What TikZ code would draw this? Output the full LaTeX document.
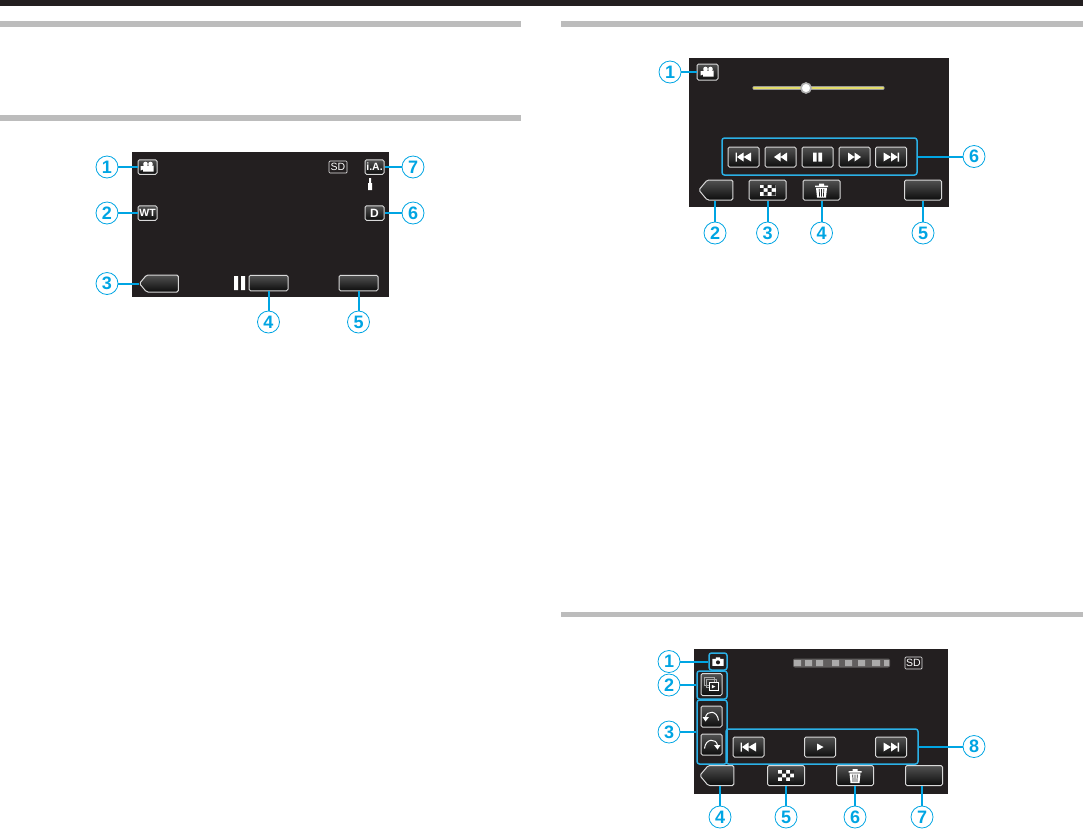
\documentclass[tikz,border=0pt]{standalone}
\usepackage{fontspec}
\setmainfont{Liberation Sans}
\usepackage{tikz}
\usetikzlibrary{shapes}
\usetikzlibrary{positioning}
\usepackage{xcolor}
\definecolor{screenblack}{HTML}{231F20}
\definecolor{callblue}{HTML}{00A5E3}
\definecolor{boxblue}{HTML}{2BB0E6}
\definecolor{headgray}{HTML}{BCBCBC}
\definecolor{sliderline}{HTML}{E3DC6A}
\tikzset{
  screen/.style={fill=screenblack, inner sep=0pt, outer sep=0pt},
  callout/.style={circle, draw=callblue, fill=white, line width=.8pt, minimum size=22pt, inner sep=0pt, text=callblue, font=\fontsize{18}{18}\selectfont\bfseries},
  lead/.style={callblue, line width=2pt},
  btn/.style={draw=white!85!black, line width=1pt, rounded corners=1.5pt, top color=black!68, bottom color=black!95, inner sep=0pt, text=white, font=\fontsize{10.5}{11}\selectfont\bfseries},
  btnlow/.style={btn, minimum width=39pt, minimum height=15.5pt},
  btnsmall/.style={btn, minimum width=19pt, minimum height=14.5pt},
  btnctl/.style={btn, minimum width=31pt, minimum height=20pt},
  btnbot/.style={btn, minimum width=37pt, minimum height=20pt},
  btnback/.style={btn, shape=signal, signal to=west, signal pointer angle=100, minimum width=#1, minimum height=17pt},
  sdbox/.style={draw=white!90!black, line width=.7pt, rounded corners=1pt, fill=screenblack, text=white, inner sep=0pt, minimum width=18pt, minimum height=12pt, font=\fontsize{10.5}{10.5}\selectfont},
  hilite/.style={draw=boxblue, line width=1.5pt, rounded corners=2.5pt, inner sep=0pt},
  headbar/.style={fill=headgray},
  camicon/.pic={
    \fill[white] (-7,-1) -- (-4.5,-1) -- (-4.5,-1.5) -- (6,-1.5) -- (6,4.5) -- (-4.5,4.5) -- (-4.5,2.5) -- (-7,3.5) -- cycle;
    \fill[white] (-2,-3) circle(2.3) (3,-3) circle(2.3);
  },
  stillicon/.pic={
    \fill[white] (-6.5,-3) rectangle (6.5,5) (-2.5,-5) rectangle (2.5,-2.5);
    \fill[screenblack] (0,1) circle(2.4);
  },
  stackicon/.pic={
    \draw[white!65!black, line width=.7pt] (-8,-8) rectangle (3,1) (-5.5,-5.5) rectangle (6,3);
    \draw[white, line width=.8pt, fill=black!85] (-3,-2) rectangle (8,7);
    \fill[white] (0.5,.5) -- (4.5,2.5) -- (0.5,4.5) -- cycle;
  },
  rotateicon/.pic={
    \draw[white, line width=1pt] (7,4) .. controls (6,-6.5) and (-5,-6.5) .. (-6,1);
    \fill[white] (-9,.5) -- (-2.5,.5) -- (-6,5) -- cycle;
  },
  skipicon/.pic={
    \fill[white] (-8,-4.5) rectangle (-6.6,4.5) (-6.6,0) -- (0,-4.5) -- (0,4.5) -- cycle (0,0) -- (7.5,-4.5) -- (7.5,4.5) -- cycle;
  },
  rewicon/.pic={
    \fill[white] (-6.5,0) -- (0,-4.5) -- (0,4.5) -- cycle (0,0) -- (6.5,-4.5) -- (6.5,4.5) -- cycle;
  },
  pauseicon/.pic={
    \fill[white] (-5,-5) rectangle (-1,5) (1,-5) rectangle (5,5);
  },
  playicon/.pic={
    \fill[white] (-3,-3.5) -- (3.5,0) -- (-3,3.5) -- cycle;
  },
  gridicon/.pic={
    \fill[white] (-8,-5.5) rectangle (8,5.5);
    \fill[black!85] (-4,-5.5) rectangle (0,-1.8) (4,-5.5) rectangle (8,-1.8) (-8,-1.8) rectangle (-4,1.8) (0,-1.8) rectangle (4,1.8) (-4,1.8) rectangle (0,5.5) (4,1.8) rectangle (8,5.5);
  },
  trashicon/.pic={
    \fill[white] (-6.5,-4.5) rectangle (6.5,-3) (-2.5,-6.5) rectangle (2.5,-4.5);
    \fill[white] (-5.5,-2.2) -- (5.5,-2.2) -- (4.5,7.5) -- (-4.5,7.5) -- cycle;
    \draw[black!85, line width=.7pt] (-2.3,-1) -- (-1.9,6.5) (0,-1) -- (0,6.5) (2.3,-1) -- (1.9,6.5);
  },
}

\begin{document}
\begin{tikzpicture}[x=1pt, y=-1pt]
\useasboundingbox (0,0) rectangle (1083,828);
\fill[screenblack] (0,0) rectangle (1083,6);
\fill[headbar] (0,21) rectangle (521,27);
\fill[headbar] (0,115) rectangle (521,121);
\fill[headbar] (561,21) rectangle (1083,27);
\fill[headbar] (561,612) rectangle (1083,617);
% recording screen
\node[screen, minimum width=257pt, minimum height=145pt] (scrA) at (260.5,224.5) {};
\node[btnsmall] (camA) at (147.5,167) {};
\node[btnsmall] (wtA) at (147.5,213) {WT};
\node[btnsmall] (iaA) at (374.5,167) {i.A.};
\node[btnsmall] (dA) at (374.5,213) {\fontsize{12}{12}\selectfont D};
\node[sdbox] (sdA) at (338,167) {SD};
\node[btnback=39pt] (backA) at (162.5,283.5) {};
\node[btnlow] (recA) at (268.5,283) {};
\node[btnlow] (menuA) at (358.5,283) {};
\pic at (camA) {camicon};
\fill[white] (234,276) rectangle (238,290) (241,276) rectangle (245,290);
\fill[white] (368,183) rectangle (372,190) (369,178) rectangle (371,183);
\node[callout] (a1) at (107,167) {1};
\node[callout] (a2) at (107,213) {2};
\node[callout] (a3) at (107,283.5) {3};
\node[callout] (a4) at (268.5,322) {4};
\node[callout] (a5) at (358.5,322) {5};
\node[callout] (a6) at (413,213) {6};
\node[callout] (a7) at (413,167) {7};
\draw[lead] (a1) -- (camA);
\draw[lead] (a2) -- (wtA);
\draw[lead] (a3) -- (backA);
\draw[lead] (a4) -- (recA);
\draw[lead] (a5) -- (menuA);
\draw[lead] (a6) -- (dA);
\draw[lead] (a7) -- (iaA);
% video playback screen
\node[screen, minimum width=260pt, minimum height=149pt] (scrB) at (819,132.5) {};
\node[btn, minimum width=21pt, minimum height=16pt] (camB) at (707.5,72) {};
\coordinate (sliderL) at (754,88);
\coordinate (sliderR) at (883,88);
\draw[white!60!black, line width=3.2pt, line cap=round] (sliderL) -- (sliderR);
\draw[sliderline, line width=2.2pt, line cap=round] (sliderL) -- (sliderR);
\node[circle, draw=white!70!black, fill=white, line width=1.6pt, minimum size=10pt, inner sep=0pt] (knobB) at (806,88) {};
\node[hilite, minimum width=195pt, minimum height=37pt] (rowB) at (819.5,156.5) {};
\node[btnctl] (skipbackB) at (743.5,157) {};
\node[btnctl] (rewB) at (780.5,157) {};
\node[btnctl] (pauseB) at (817.5,157) {};
\node[btnctl] (ffB) at (854.5,157) {};
\node[btnctl] (skipfwdB) at (891,157) {};
\node[btnback=34pt, minimum height=20pt] (backB) at (720,190) {};
\node[btnbot] (gridB) at (767.5,190) {};
\node[btnbot] (trashB) at (821.5,190) {};
\node[btnbot] (menuB) at (923,190) {};
\pic at (camB) {camicon};
\pic at (skipbackB) {skipicon};
\pic at (rewB) {rewicon};
\pic[scale=.9] at (pauseB) {pauseicon};
\pic[xscale=-1] at (ffB) {rewicon};
\pic[xscale=-1] at (skipfwdB) {skipicon};
\pic at (gridB) {gridicon};
\pic at (trashB) {trashicon};
\node[callout] (b1) at (670,72) {1};
\node[callout] (b2) at (715,233) {2};
\node[callout] (b3) at (767.5,233) {3};
\node[callout] (b4) at (821.5,233) {4};
\node[callout] (b5) at (923,233) {5};
\node[callout] (b6) at (974,156.5) {6};
\draw[lead] (b1) -- (camB);
\draw[lead] (b2) -- (b2 |- backB.south);
\draw[lead] (b3) -- (gridB);
\draw[lead] (b4) -- (trashB);
\draw[lead] (b5) -- (menuB);
\draw[lead] (b6) -- (rowB);
% still image playback screen
\node[screen, minimum width=254pt, minimum height=145pt] (scrC) at (821,721.5) {};
\fill[white!28!screenblack, rounded corners=2pt] (793,658.5) rectangle (890,667.5);
\fill[white!62!screenblack] (794,660) rectangle (801,666) (805,660) rectangle (812,666) (816,660) rectangle (823,666) (832,660) rectangle (839,666) (845,660) rectangle (852,666) (858,660) rectangle (865,666) (872,660) rectangle (880,666) (884,660) rectangle (889,666);
\node[sdbox, minimum width=17pt] (sdC) at (913.5,663) {SD};
\node[hilite, minimum width=18pt, minimum height=17pt] (camboxC) at (718,661.5) {};
\node[hilite, minimum width=30pt, minimum height=28pt] (stackboxC) at (712,685) {};
\node[hilite, minimum width=30pt, minimum height=64pt] (rotboxC) at (712,732) {};
\node[hilite, minimum width=192pt, minimum height=35pt] (rowC) at (822,746.5) {};
\pic[scale=.85] at (718,661.5) {stillicon};
\node[btn, minimum width=21pt, minimum height=22pt] (stackC) at (711.5,684.5) {};
\node[btn, minimum width=21pt, minimum height=21pt] (rotleftC) at (711.5,716.5) {};
\node[btn, minimum width=21pt, minimum height=21pt] (rotrightC) at (711.5,744.5) {};
\node[btnctl] (skipbackC) at (748.5,747) {};
\node[btnctl] (playC) at (820,747) {};
\node[btnctl] (skipfwdC) at (891,747) {};
\node[btnback=34pt, minimum height=20pt] (backC) at (721,775.5) {};
\node[btnbot] (gridC) at (786,775.5) {};
\node[btnbot] (trashC) at (855,775.5) {};
\node[btnbot] (menuC) at (924,775.5) {};
\pic[scale=.85] at (stackC) {stackicon};
\pic at (rotleftC) {rotateicon};
\pic[xscale=-1] at (rotrightC) {rotateicon};
\pic at (skipbackC) {skipicon};
\pic at (playC) {playicon};
\pic[xscale=-1] at (skipfwdC) {skipicon};
\pic at (gridC) {gridicon};
\pic at (trashC) {trashicon};
\node[callout] (c1) at (669,661.5) {1};
\node[callout] (c2) at (669,685) {2};
\node[callout] (c3) at (669,732) {3};
\node[callout] (c4) at (720,817) {4};
\node[callout] (c5) at (786,817) {5};
\node[callout] (c6) at (855,817) {6};
\node[callout] (c7) at (922,817) {7};
\node[callout] (c8) at (974,746.5) {8};
\draw[lead] (c1) -- (camboxC);
\draw[lead] (c2) -- (stackboxC);
\draw[lead] (c3) -- (rotboxC);
\draw[lead] (c4) -- (c4 |- backC.south);
\draw[lead] (c5) -- (gridC);
\draw[lead] (c6) -- (trashC);
\draw[lead] (c7) -- (c7 |- menuC.south);
\draw[lead] (c8) -- (rowC);
\end{tikzpicture}
\end{document}
